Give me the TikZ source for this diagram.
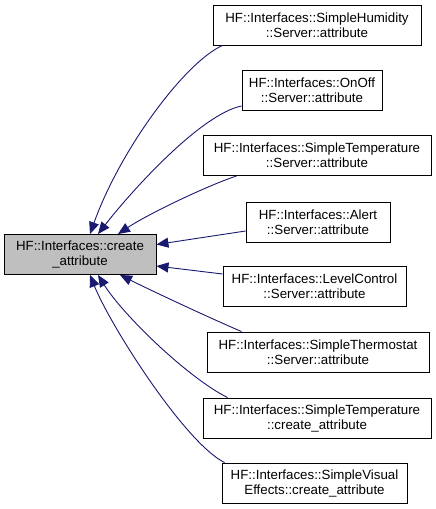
\documentclass[tikz,border=0pt]{standalone}
\usepackage{fontspec}
\setmainfont{Liberation Sans}
\usetikzlibrary{arrows.meta}
\definecolor{edgeblue}{HTML}{191970}
\definecolor{rootgray}{HTML}{BFBFBF}
\begin{document}
\begin{tikzpicture}[x=1pt,y=-1pt,
  box/.style={draw=black, line width=0.9pt, fill=white, align=center,
    minimum height=40pt, inner sep=0pt, font=\fontsize{13.3}{15}\selectfont},
  rootbox/.style={box, fill=rootgray},
  edge/.style={draw=edgeblue, line width=0.9pt, -{Triangle[length=12pt,width=10pt]}}]
\useasboundingbox (0,0) rectangle (436,509);

\node[rootbox, minimum width=152pt] (root) at (80,254.5) {HF::Interfaces::create\\\_attribute};

\node[box, minimum width=208pt] (n1) at (317,25) {HF::Interfaces::SimpleHumidity\\::Server::attribute};
\node[box, minimum width=140pt] (n2) at (312,90.5) {HF::Interfaces::OnOff\\::Server::attribute};
\node[box, minimum width=228pt] (n3) at (317,155.5) {HF::Interfaces::SimpleTemperature\\::Server::attribute};
\node[box, minimum width=144pt] (n4) at (318,222.5) {HF::Interfaces::Alert\\::Server::attribute};
\node[box, minimum width=183pt] (n5) at (314.5,286.5) {HF::Interfaces::LevelControl\\::Server::attribute};
\node[box, minimum width=222pt] (n6) at (318,352) {HF::Interfaces::SimpleThermostat\\::Server::attribute};
\node[box, minimum width=228pt] (n7) at (317,418) {HF::Interfaces::SimpleTemperature\\::create\_attribute};
\node[box, minimum width=185pt] (n8) at (314.5,483) {HF::Interfaces::SimpleVisual\\Effects::create\_attribute};

\draw[edge] ([xshift=10pt]n1.south west) .. controls +(-38,17) and +(30,-84) .. ([xshift=10pt]root.north);
\draw[edge] ([yshift=-15.5pt]n2.west) .. controls +(-40,8) and +(35,-45) .. ([xshift=18pt]root.north);
\draw[edge] ([xshift=34pt]n3.south west) .. controls +(-30,10) and +(30,-20) .. ([xshift=38pt]root.north);
\draw[edge] ([yshift=-8.5pt]n4.west) -- ([yshift=10pt]root.east);
\draw[edge] ([yshift=12.5pt]n5.west) -- ([yshift=-11.5pt]root.east);
\draw[edge] ([xshift=35pt]n6.north west) .. controls +(-35,-15) and +(30,15) .. ([xshift=40pt]root.south);
\draw[edge] ([xshift=25pt]n7.north west) .. controls +(-40,-20) and +(25,40) .. ([xshift=18pt]root.south);
\draw[edge] ([xshift=3pt]n8.north west) .. controls +(-40,-20) and +(20,50) .. ([xshift=10pt]root.south);
\end{tikzpicture}
\end{document}
